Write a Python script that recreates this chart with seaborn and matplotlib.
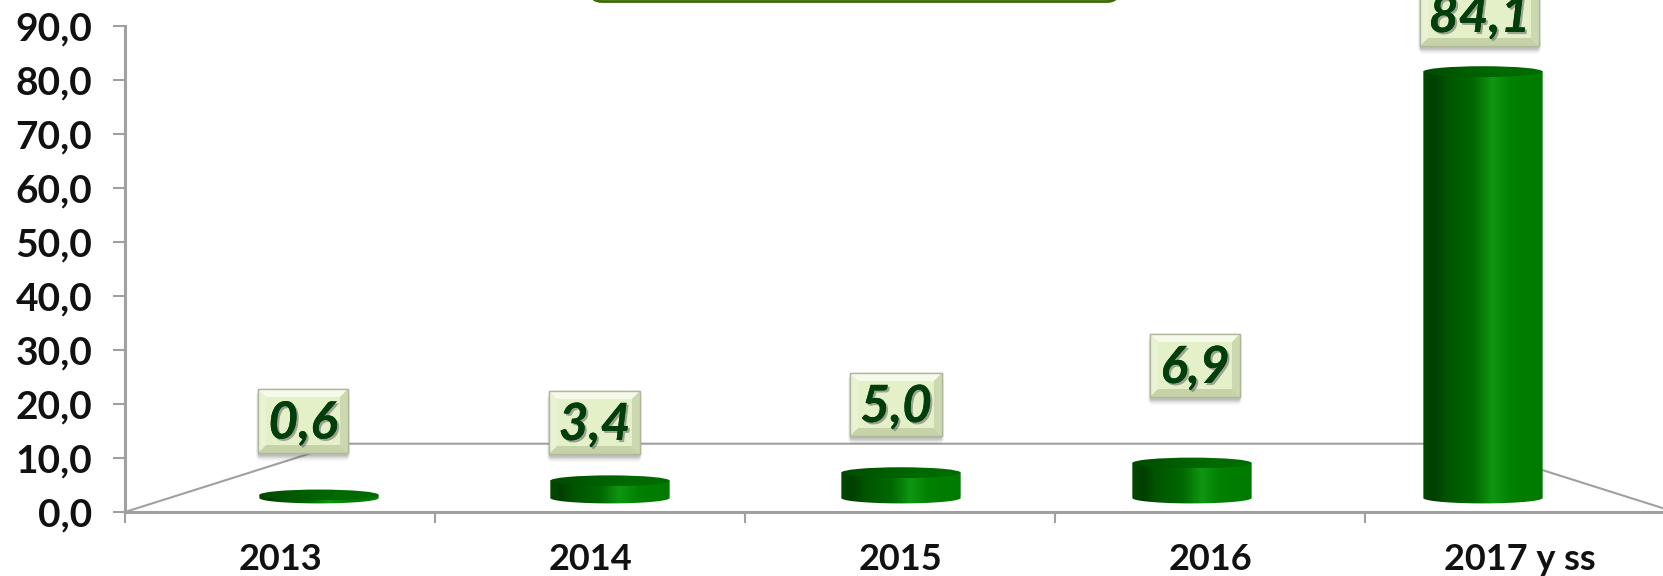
import numpy as np
import pandas as pd
import matplotlib
matplotlib.use('Agg')
import matplotlib.pyplot as plt
import matplotlib.patheffects as pe
import seaborn as sns
from matplotlib.colors import LinearSegmentedColormap
from matplotlib.patches import Ellipse, FancyBboxPatch, Polygon, Rectangle
from matplotlib.path import Path

# datos del grafico
anios = ['2013', '2014', '2015', '2016', '2017 y ss']
valores = [0.6, 3.4, 5.0, 6.9, 84.1]
etiquetas = ['0,6', '3,4', '5,0', '6,9', '84,1']
y_ticks = [0, 10, 20, 30, 40, 50, 60, 70, 80, 90]
y_labels = ['0,0', '10,0', '20,0', '30,0', '40,0', '50,0', '60,0', '70,0', '80,0', '90,0']

# cajas de las etiquetas en pixeles (izq, arriba, der, abajo)
cajas = [(258, 389, 348, 453), (549, 391, 640, 454), (850, 373, 942, 436),
         (1150, 334, 1240, 397), (1420, -17, 1539, 46)]

W, H = 1663, 576
GRIS = '#a0a0a0'
ESCALA = 5.07  # pixeles por unidad en las barras

sns.set_theme(style='white')
plt.rcParams['font.family'] = ['Lato', 'DejaVu Sans']


def rect_px(left, top, right, bottom):
    # caja en pixeles (origen arriba) a fracciones de la figura
    return [left / W, 1 - bottom / H, (right - left) / W, (bottom - top) / H]


fig = plt.figure(figsize=(W / 100, H / 100), dpi=100, facecolor='white')

# ejes principales con la escala y las categorias
ax = fig.add_axes(rect_px(125, 26, 1675, 512), zorder=1)
ax.set_facecolor('none')
ax.set_xlim(0, 5)
ax.set_ylim(0, 90)
ax.set_yticks(y_ticks, y_labels, fontsize=28, fontweight='bold', color='#111111')
ax.set_xticks(range(6), [''] * 6)
ax.set_xticks(np.arange(5) + 0.5, anios, minor=True, fontsize=26, fontweight='bold', color='#111111')
ax.tick_params(axis='y', length=8.5, width=1.5, color=GRIS, pad=15, left=True)
ax.tick_params(axis='x', which='major', length=8, width=1.5, color=GRIS, bottom=True)
ax.tick_params(axis='x', which='minor', length=0, pad=22)
sns.despine(ax=ax, top=True, right=True)
for lado in ['left', 'bottom']:
    ax.spines[lado].set_color(GRIS)
    ax.spines[lado].set_linewidth(2.2)

# capa de decoracion en pixeles
deco = fig.add_axes([0, 0, 1, 1], zorder=3)
deco.set_xlim(0, W)
deco.set_ylim(H, 0)
deco.axis('off')

fondo = fig.add_axes([0, 0, 1, 1], zorder=0)
fondo.set_xlim(0, W)
fondo.set_ylim(H, 0)
fondo.axis('off')
# piso del grafico 3D
fondo.plot([125, 341, 1459, 1675], [512, 443.7, 443.7, 512], color=GRIS, lw=1.5, solid_joinstyle='miter')

# barras: ejes propios por la perspectiva del 3D, con margen abajo para la base curva
ax_b = fig.add_axes(rect_px(173.5, 498 - 90 * ESCALA, 1628.5, 498 + 3 * ESCALA), zorder=2)
df = pd.DataFrame({'anio': anios, 'valor': valores})
sns.barplot(data=df, x='anio', y='valor', ax=ax_b, width=0.41, color='#007a00', saturation=1)
ax_b.axis('off')

cm_lado = LinearSegmentedColormap.from_list('lado', [(0, '#004a00'), (0.09, '#003f00'), (0.2, '#005500'),
                                                     (0.42, '#006800'), (0.58, '#0f9612'), (0.74, '#008000'),
                                                     (1, '#007a00')])
cm_tapa = LinearSegmentedColormap.from_list('tapa', ['#004a00', '#005c00', '#006a00', '#006c00'])
grad = np.linspace(0, 1, 256).reshape(1, -1)
alto_elipse = 5.4 / ESCALA
t = np.linspace(np.pi, 2 * np.pi, 60)

for p in ax_b.patches:
    x0, ancho, alto = p.get_x(), p.get_width(), p.get_height()
    xc = x0 + ancho / 2
    # silueta: lateral recto y base curva
    xs = np.r_[x0, xc + ancho / 2 * np.cos(t), x0 + ancho, x0]
    ys = np.r_[alto, alto_elipse * np.sin(t), alto, alto]
    im = ax_b.imshow(grad, cmap=cm_lado, aspect='auto', extent=(x0, x0 + ancho, -2, alto + 2), zorder=3)
    im.set_clip_path(Path(np.c_[xs, ys]), transform=ax_b.transData)
    # tapa superior
    tapa = Ellipse((xc, alto), ancho, 2 * alto_elipse, transform=ax_b.transData, facecolor='none', edgecolor='none')
    ax_b.add_patch(tapa)
    im2 = ax_b.imshow(grad, cmap=cm_tapa, aspect='auto',
                      extent=(x0, x0 + ancho, alto - alto_elipse, alto + alto_elipse), zorder=4)
    im2.set_clip_path(tapa)
    p.set_visible(False)
ax_b.set_xlim(-0.5, 4.5)
ax_b.set_ylim(-3, 90)

# cajas con bisel para los valores
for (l, a, r, b), txt in zip(cajas, etiquetas):
    for g, alfa in [(6, 0.05), (4.5, 0.08), (3, 0.12), (1.5, 0.18)]:
        deco.add_patch(FancyBboxPatch((l - g / 2 + 1, a + 3), r - l + g - 2, b - a + g - 1,
                                      boxstyle='round,pad=0,rounding_size=%.1f' % g,
                                      fc='#555555', ec='none', alpha=alfa))
    e = 8
    deco.add_patch(Rectangle((l, a), r - l, b - a, fc='#e4f0c8', ec='#b4bca0', lw=1))
    deco.add_patch(Polygon([(l, a), (r, a), (r - e, a + e), (l + e, a + e)], fc='#f5faea', ec='none'))
    deco.add_patch(Polygon([(l, a), (l + e, a + e), (l + e, b - e), (l, b)], fc='#eaf2d6', ec='none'))
    deco.add_patch(Polygon([(r, a), (r - e, a + e), (r - e, b - e), (r, b)], fc='#ccd8b0', ec='none'))
    deco.add_patch(Polygon([(l, b), (l + e, b - e), (r - e, b - e), (r, b)], fc='#c6d3a8', ec='none'))
    deco.add_patch(Rectangle((l, a), r - l, b - a, fc='none', ec='#b0b89c', lw=1))
    deco.text((l + r) / 2, (a + b) / 2 + 3, txt, ha='center', va='center', fontsize=37, fontweight='bold',
              fontstyle='italic', color='#003f0c',
              path_effects=[pe.withSimplePatchShadow(offset=(1.5, -1.5), shadow_rgbFace='#555555', alpha=0.5), pe.Normal()])

# resto del recuadro del titulo que queda cortado arriba
deco.add_patch(FancyBboxPatch((590, -40), 529, 41.5, boxstyle='round,pad=0,rounding_size=12',
                              fc='white', ec='#3a6a00', lw=2))

fig.savefig('out.png', dpi=100)
